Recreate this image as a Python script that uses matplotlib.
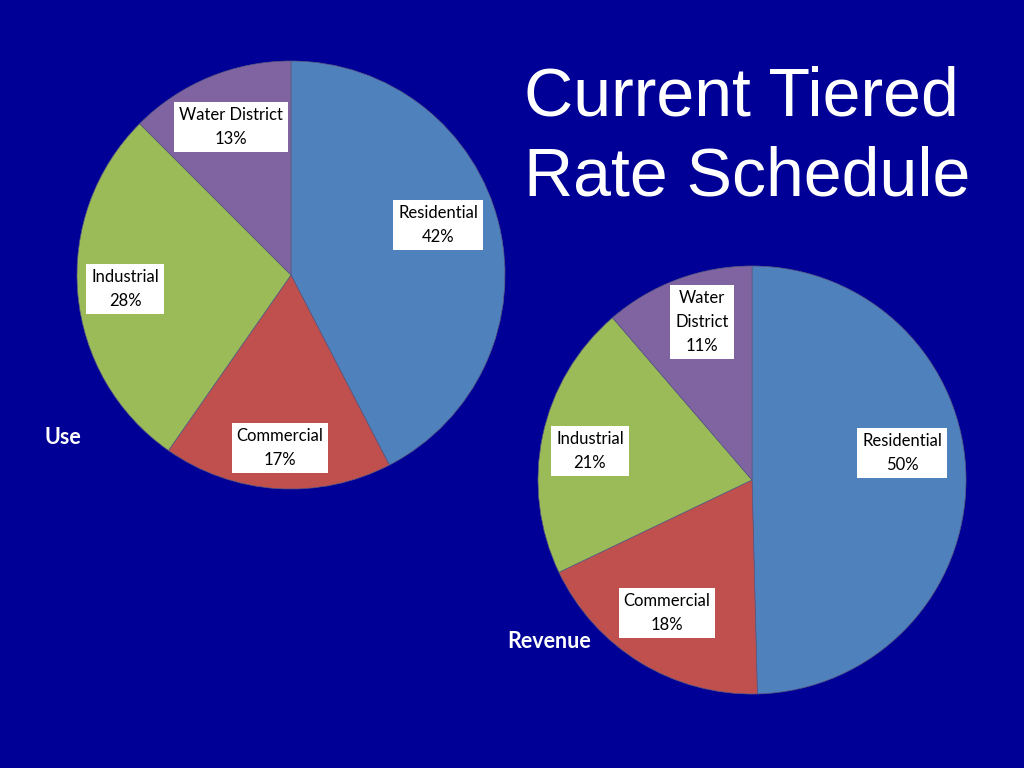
import matplotlib
matplotlib.use("Agg")
import matplotlib.pyplot as plt

# Datos
categories = ["Residential", "Commercial", "Industrial", "Water District"]
use_values = [42.4, 17.3, 27.8, 12.5]
use_labels = ["42%", "17%", "28%", "13%"]
revenue_values = [49.6, 18.3, 20.8, 11.3]
revenue_labels = ["50%", "18%", "21%", "11%"]

COLORS = ["#4F81BD", "#C0504D", "#9BBB59", "#8064A2"]
BG = "#000096"
W, H = 1024, 768
R = 214  # radio en pixeles

# posiciones de las etiquetas (pixeles de la imagen)
use_label_pos = [(438, 225), (280, 448), (125, 289), (231, 127)]
rev_label_pos = [(902, 453), (667, 613), (590, 451), (702, 322)]
rev_names = ["Residential", "Commercial", "Industrial", "Water\nDistrict"]

fig = plt.figure(figsize=(W / 100, H / 100), dpi=100)
fig.patch.set_facecolor(BG)


def draw_pie(cx, cy, values, names, labels, label_pos):
    ax = fig.add_axes([(cx - R) / W, (H - cy - R) / H, 2 * R / W, 2 * R / H])
    ax.pie(values, colors=COLORS, startangle=90, counterclock=False,
           wedgeprops=dict(edgecolor="#5a5a80", linewidth=0.5))
    ax.set_xlim(-1, 1)
    ax.set_ylim(-1, 1)
    ax.set_aspect("equal")
    ax.axis("off")
    for name, lab, (px, py) in zip(names, labels, label_pos):
        x = (px - cx) / R
        y = (cy - py) / R
        ax.text(x, y, f"{name}\n{lab}", ha="center", va="center",
                fontsize=12, family="Lato", color="black",
                linespacing=1.6,
                bbox=dict(facecolor="white", edgecolor="none", pad=3.5))
    return ax


draw_pie(291, 275, use_values, categories, use_labels, use_label_pos)
draw_pie(752, 480, revenue_values, rev_names, revenue_labels, rev_label_pos)

fig.text(524 / W, 1 - 116 / H, "Current Tiered", fontsize=49,
         family="Liberation Sans", color="white", ha="left", va="baseline")
fig.text(524 / W, 1 - 196 / H, "Rate Schedule", fontsize=49,
         family="Liberation Sans", color="white", ha="left", va="baseline")

fig.text(45 / W, 1 - 437 / H, "Use", fontsize=15.5, family="Lato",
         weight="bold", color="white", ha="left", va="center")
fig.text(507 / W, 1 - 641 / H, "Revenue", fontsize=15.5, family="Lato",
         weight="bold", color="white", ha="left", va="center")

fig.savefig("out.png", dpi=100, facecolor=BG)
